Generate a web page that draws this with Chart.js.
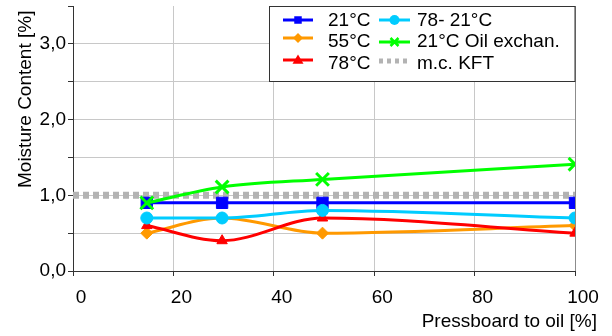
<!DOCTYPE html>
<html><head><meta charset="utf-8">
<script src="https://cdn.jsdelivr.net/npm/chart.js@4.4.1/dist/chart.umd.min.js"></script>
<style>html,body{margin:0;padding:0;background:#fff}#wrap{width:612px;height:336px;position:relative}</style>
</head><body><div id="wrap"><canvas id="c"></canvas></div>
<script>
// ---- data ----
const xPositions = [14.7, 29.7, 49.7, 100];
const seriesLabels = ['21°C', '55°C', '78°C', '78- 21°C', '21°C Oil exchan.', 'm.c. KFT'];
const mc21 = [0.9, 0.9, 0.9, 0.9];
const mc55 = [0.5, 0.7, 0.5, 0.6];
const mc78 = [0.6, 0.4, 0.7, 0.5];
const mc78to21 = [0.7, 0.7, 0.8, 0.7];
const mc21oil = [0.9, 1.11, 1.21, 1.41];
const kftX = [0, 100];
const kftY = [1.0, 1.0];
const xTickValues = [0, 20, 40, 60, 80, 100];
const yTickValues = [0, 0.5, 1, 1.5, 2, 2.5, 3, 3.5];
const xTitle = 'Pressboard to oil [%]';
const yTitle = 'Moisture Content [%]';

const FONT = "'Liberation Sans', Arial, sans-serif";
const pts = (xs, ys) => xs.map((x, i) => ({x: x, y: ys[i]}));

const styles = [
  {color: '#0000ff', style: 'rect', r: 8, lr: 5},
  {color: '#ff9900', style: 'rectRot', r: 6, lr: 5},
  {color: '#ff0000', style: 'triangle', r: 6, lr: 5.5},
  {color: '#00ccff', style: 'circle', r: 6, lr: 5},
  {color: '#00ff00', style: 'crossRot', r: 9, lr: 5},
  {color: '#b3b3b3', style: null, r: 0, lr: 0}
];
const seriesData = [
  pts(xPositions, mc21), pts(xPositions, mc55), pts(xPositions, mc78),
  pts(xPositions, mc78to21), pts(xPositions, mc21oil), pts(kftX, kftY)
];
const drawOrder = [5, 4, 3, 2, 1, 6];

const datasets = seriesLabels.map((lab, i) => {
  const s = styles[i];
  const isKft = i === 5;
  return {
    label: lab,
    data: seriesData[i],
    borderColor: s.color,
    backgroundColor: s.color,
    pointBackgroundColor: s.color,
    pointBorderColor: s.color,
    borderWidth: isKft ? 7 : 3,
    borderDash: isKft ? [6, 4] : [],
    borderCapStyle: 'butt',
    pointStyle: s.style || 'circle',
    pointRadius: s.r,
    pointBorderWidth: s.style === 'crossRot' ? 3 : 1,
    pointHoverRadius: s.r,
    cubicInterpolationMode: isKft ? 'default' : 'monotone',
    tension: isKft ? 0 : 0.4,
    order: drawOrder[i],
    fill: false
  };
});

function drawMarker(ctx, style, x, y, r, color) {
  ctx.save();
  ctx.fillStyle = color; ctx.strokeStyle = color; ctx.lineWidth = 2;
  ctx.beginPath();
  if (style === 'rect') { ctx.rect(x - r * 0.75, y - r * 0.75, r * 1.5, r * 1.5); ctx.fill(); }
  else if (style === 'rectRot') { ctx.moveTo(x, y - r); ctx.lineTo(x + r, y); ctx.lineTo(x, y + r); ctx.lineTo(x - r, y); ctx.closePath(); ctx.fill(); }
  else if (style === 'triangle') { ctx.moveTo(x, y - r); ctx.lineTo(x + r, y + r * 0.7); ctx.lineTo(x - r, y + r * 0.7); ctx.closePath(); ctx.fill(); }
  else if (style === 'circle') { ctx.arc(x, y, r, 0, Math.PI * 2); ctx.fill(); }
  else if (style === 'crossRot') { ctx.lineWidth = 2.5; ctx.moveTo(x - r * 0.8, y - r * 0.8); ctx.lineTo(x + r * 0.8, y + r * 0.8); ctx.moveTo(x + r * 0.8, y - r * 0.8); ctx.lineTo(x - r * 0.8, y + r * 0.8); ctx.moveTo(x - r, y); ctx.lineTo(x + r, y); ctx.stroke(); }
  ctx.restore();
}

const overlayPlugin = {
  id: 'overlay',
  afterDraw(chart) {
    const ctx = chart.ctx;
    const a = chart.chartArea;
    // axis titles
    ctx.save();
    ctx.fillStyle = '#000';
    ctx.font = '19px ' + FONT;
    ctx.textAlign = 'right'; ctx.textBaseline = 'alphabetic';
    ctx.fillText(xTitle, 597, 327);
    ctx.translate(31, 188); ctx.rotate(-Math.PI / 2);
    ctx.textAlign = 'left';
    ctx.fillText(yTitle, 0, 0);
    ctx.restore();
    // legend box
    const bx = 269.5, by = a.top + 0.5, bw = a.right - 269.5, bh = 75;
    ctx.save();
    ctx.fillStyle = '#fff'; ctx.fillRect(bx, by, bw, bh);
    ctx.strokeStyle = '#333'; ctx.lineWidth = 1; ctx.strokeRect(bx, by, bw, bh);
    const cols = [{x0: 283, x1: 313, tx: 328}, {x0: 379, x1: 410, tx: 417}];
    const rowY = [[20, 38, 60], [20, 42, 61]];
    const textY = [21, 42, 63.5];
    ctx.font = '19px ' + FONT;
    ctx.textBaseline = 'middle'; ctx.textAlign = 'left';
    seriesLabels.forEach((lab, i) => {
      const c = Math.floor(i / 3), r = i % 3;
      const col = cols[c];
      const ly = rowY[c][r];
      const s = styles[i];
      ctx.save();
      ctx.strokeStyle = s.color;
      if (i === 5) { ctx.lineWidth = 5; ctx.setLineDash([4, 4]); }
      else { ctx.lineWidth = 3; }
      ctx.beginPath(); ctx.moveTo(col.x0, ly); ctx.lineTo(col.x1, ly); ctx.stroke();
      ctx.restore();
      if (s.style) drawMarker(ctx, s.style, (col.x0 + col.x1) / 2, ly, s.lr, s.color);
      ctx.fillStyle = '#000';
      ctx.fillText(lab, col.tx, textY[r]);
    });
    ctx.restore();
  }
};

new Chart(document.getElementById('c'), {
  type: 'line',
  data: {datasets: datasets},
  plugins: [overlayPlugin],
  options: {
    responsive: true,
    maintainAspectRatio: false,
    devicePixelRatio: 1,
    animation: false,
    events: [],
    layout: {autoPadding: false, padding: {left: 0, right: 37, top: 6, bottom: 0}},
    plugins: {legend: {display: false}, tooltip: {enabled: false}, title: {display: false}},
    scales: {
      x: {
        type: 'linear', min: 0, max: 100,
        afterBuildTicks: (s) => { s.ticks = xTickValues.map(v => ({value: v})); },
        afterFit: (s) => { s.height = 65; s.paddingLeft = 0; s.paddingRight = 0; },
        ticks: {font: {family: FONT, size: 19}, color: '#000', padding: 10, labelOffset: 8, maxRotation: 0, autoSkip: false,
                callback: (v) => String(v)},
        grid: {
          color: (c) => c.tick && c.tick.value === 100 ? '#8c8c8c' : (c.tick && c.tick.value === 0 ? 'rgba(0,0,0,0)' : '#c8c8c8'),
          lineWidth: 1, tickLength: 5, tickColor: '#333', drawTicks: true
        },
        border: {display: true, color: '#333', width: 1}
      },
      y: {
        type: 'linear', min: 0, max: 3.5,
        afterBuildTicks: (s) => { s.ticks = yTickValues.map(v => ({value: v})); },
        afterFit: (s) => { s.width = 73; s.paddingTop = 0; s.paddingBottom = 0; },
        ticks: {font: {family: FONT, size: 19}, color: '#000', padding: 2, autoSkip: false,
                callback: (v) => (Math.abs(v - Math.round(v)) < 1e-9 ? v.toFixed(1).replace('.', ',') : '')},
        grid: {
          color: (c) => c.tick && (c.tick.value === 3.5 || c.tick.value === 0) ? 'rgba(0,0,0,0)' : '#c8c8c8',
          lineWidth: 1, tickLength: 5, tickColor: '#333', drawTicks: true
        },
        border: {display: true, color: '#333', width: 1}
      }
    }
  }
});
</script>
</body></html>
